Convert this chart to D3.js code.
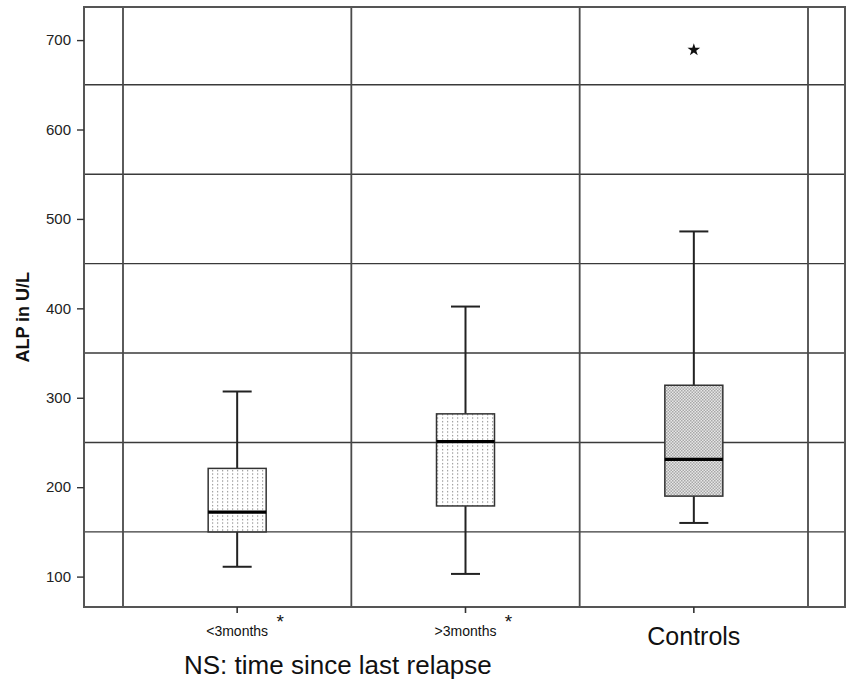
<!DOCTYPE html>
<html>
<head>
<meta charset="utf-8">
<script src="https://cdn.jsdelivr.net/npm/d3@7"></script>
<style>
  html, body { margin: 0; padding: 0; background: #fff; }
  svg { display: block; font-family: "Liberation Sans", Arial, sans-serif; }
</style>
</head>
<body>
<svg id="chart" width="847" height="680"></svg>
<script>
// ---- data ----
const categories = ["<3months", ">3months", "Controls"];
const whiskerLow  = [111, 103, 160];
const q1          = [150, 179, 190];
const median      = [172, 251, 231];
const q3          = [221, 282, 314];
const whiskerHigh = [307, 402, 486];
const outlierCats   = ["Controls"];
const outlierValues = [689];
const yTicks     = [100, 200, 300, 400, 500, 600, 700];
const yGridLines = [150, 250, 350, 450, 550, 650];
const starredCats = ["<3months", ">3months"];
const yTitle = "ALP in U/L";
const xTitle = "NS: time since last relapse";

// ---- layout ----
const svg = d3.select("#chart");
const frame = { left: 84, right: 845, top: 7, bottom: 607 };

const y = d3.scaleLinear().domain([66, 737]).range([frame.bottom, frame.top]);
const x = d3.scaleBand().domain(categories).range([123, 808]).padding(0);
const cx = c => x(c) + x.bandwidth() / 2;

// patterns
const defs = svg.append("defs");
const pDot = defs.append("pattern").attr("id", "dots")
  .attr("patternUnits", "userSpaceOnUse").attr("width", 5).attr("height", 3.5);
pDot.append("rect").attr("width", 5).attr("height", 3.5).attr("fill", "#fff");
pDot.append("rect").attr("x", 2).attr("y", 1).attr("width", 1.2).attr("height", 1.2).attr("fill", "#8a8a8a");

const pChk = defs.append("pattern").attr("id", "checker")
  .attr("patternUnits", "userSpaceOnUse").attr("width", 3).attr("height", 3);
pChk.append("rect").attr("width", 3).attr("height", 3).attr("fill", "#e6e6e6");
pChk.append("rect").attr("x", 0).attr("y", 0).attr("width", 1.5).attr("height", 1.5).attr("fill", "#a8a8a8");
pChk.append("rect").attr("x", 1.5).attr("y", 1.5).attr("width", 1.5).attr("height", 1.5).attr("fill", "#a8a8a8");
const fills = ["url(#dots)", "url(#dots)", "url(#checker)"];

// gridlines
svg.append("g").selectAll("line.h").data(yGridLines).join("line")
  .attr("x1", frame.left).attr("x2", frame.right)
  .attr("y1", d => y(d)).attr("y2", d => y(d))
  .attr("stroke", "#3a3a3a").attr("stroke-width", 1.4);

const vLines = categories.map(c => x(c)).concat([x(categories[categories.length - 1]) + x.bandwidth()]);
svg.append("g").selectAll("line.v").data(vLines).join("line")
  .attr("x1", d => d).attr("x2", d => d)
  .attr("y1", frame.top).attr("y2", frame.bottom)
  .attr("stroke", "#4a4a4a").attr("stroke-width", 1.8);

// frame
svg.append("rect")
  .attr("x", frame.left).attr("y", frame.top)
  .attr("width", frame.right - frame.left).attr("height", frame.bottom - frame.top)
  .attr("fill", "none").attr("stroke", "#555").attr("stroke-width", 2);

// y axis
const yAxis = d3.axisLeft(y).tickValues(yTicks).tickSize(7).tickPadding(6).tickFormat(d3.format("d"));
const gy = svg.append("g").attr("transform", `translate(${frame.left},0)`).call(yAxis);
gy.select(".domain").remove();
gy.selectAll(".tick line").attr("stroke", "#333").attr("stroke-width", 1.4);
gy.selectAll(".tick text").attr("font-size", 15).attr("fill", "#222")
  .attr("font-family", "Liberation Sans, Arial, sans-serif");

// x axis ticks
const xAxis = d3.axisBottom(x).tickSize(6).tickFormat("");
const gx = svg.append("g").attr("transform", `translate(0,${frame.bottom})`).call(xAxis);
gx.select(".domain").remove();
gx.selectAll(".tick line").attr("stroke", "#333").attr("stroke-width", 1.6);

// x labels
const labelSize = [14, 14, 25];
const labelY = [636, 636, 645];
svg.append("g").selectAll("text").data(categories).join("text")
  .attr("x", d => cx(d)).attr("y", (d, i) => labelY[i])
  .attr("text-anchor", "middle")
  .attr("font-size", (d, i) => labelSize[i])
  .attr("fill", "#111")
  .text(d => d);

// significance asterisks
svg.append("g").selectAll("text").data(starredCats).join("text")
  .attr("x", d => cx(d) + 43).attr("y", 628)
  .attr("text-anchor", "middle").attr("font-size", 19)
  .attr("fill", "#111").text("*");

// boxes
const boxW = 58, capW = 29;
const g = svg.append("g");
categories.forEach((c, i) => {
  const xc = cx(c);
  g.append("line").attr("x1", xc).attr("x2", xc)
    .attr("y1", y(whiskerLow[i])).attr("y2", y(whiskerHigh[i]))
    .attr("stroke", "#222").attr("stroke-width", 2);
  [whiskerLow[i], whiskerHigh[i]].forEach(v => {
    g.append("line").attr("x1", xc - capW / 2).attr("x2", xc + capW / 2)
      .attr("y1", y(v)).attr("y2", y(v))
      .attr("stroke", "#222").attr("stroke-width", 2);
  });
  g.append("rect").attr("x", xc - boxW / 2).attr("width", boxW)
    .attr("y", y(q3[i])).attr("height", y(q1[i]) - y(q3[i]))
    .attr("fill", fills[i]).attr("stroke", "#333").attr("stroke-width", 1.5);
  g.append("line").attr("x1", xc - boxW / 2).attr("x2", xc + boxW / 2)
    .attr("y1", y(median[i])).attr("y2", y(median[i]))
    .attr("stroke", "#000").attr("stroke-width", 3.2);
});

// outliers (extreme, star symbol)
svg.append("g").selectAll("path").data(outlierValues).join("path")
  .attr("transform", (d, i) => `translate(${cx(outlierCats[i])},${y(d)})`)
  .attr("d", d3.symbol().type(d3.symbolStar).size(50))
  .attr("fill", "#111");

// axis titles
svg.append("text")
  .attr("transform", `translate(29,${y(390)}) rotate(-90)`)
  .attr("text-anchor", "middle").attr("font-size", 18).attr("font-weight", "bold")
  .attr("fill", "#111").text(yTitle);

svg.append("text")
  .attr("x", 184).attr("y", 674)
  .attr("font-size", 26).attr("fill", "#111").text(xTitle);
</script>
</body>
</html>
